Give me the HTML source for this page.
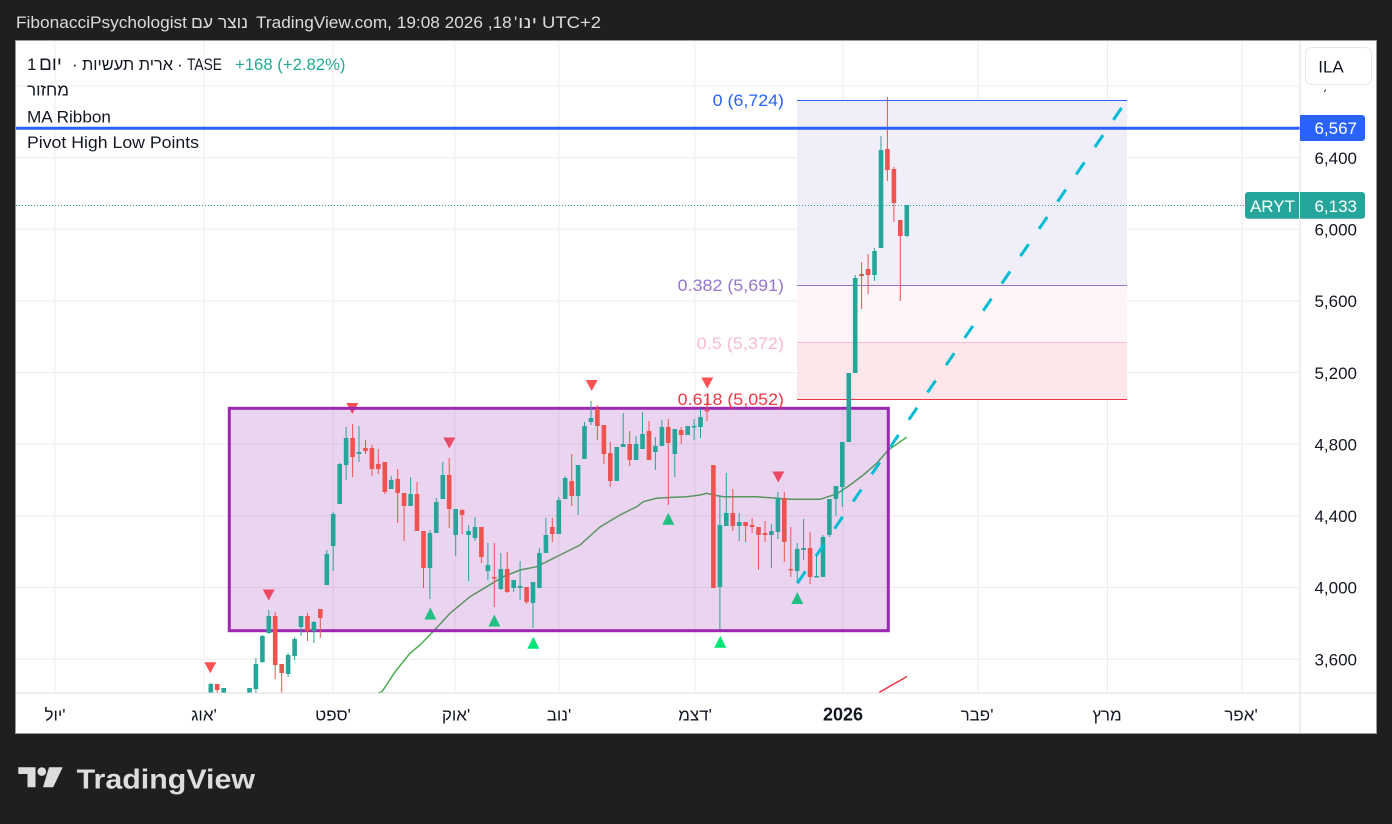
<!DOCTYPE html>
<html><head><meta charset="utf-8"><style>
html,body{margin:0;padding:0;background:#1f1f1f;}
svg{display:block;}
text{font-family:"Liberation Sans","DejaVu Sans",sans-serif;}
</style></head><body>
<svg width="1392" height="824" viewBox="0 0 1392 824" xmlns="http://www.w3.org/2000/svg">
<defs><clipPath id="pc"><rect x="16" y="41" width="1284" height="652"/></clipPath></defs>
<rect x="0" y="0" width="1392" height="824" fill="#1f1f1f"/>
<g font-size="17" fill="#dcdcdc">
<text x="16" y="28" textLength="171" lengthAdjust="spacingAndGlyphs">FibonacciPsychologist</text>
<text x="191" y="28" textLength="57" lengthAdjust="spacingAndGlyphs">נוצר עם</text>
<text x="256" y="28" textLength="255.7" lengthAdjust="spacingAndGlyphs">TradingView.com, 19:08 2026 ,18</text>
<text x="514" y="28">'</text>
<text x="518" y="28" textLength="19" lengthAdjust="spacingAndGlyphs">ינו</text>
<text x="542" y="28" textLength="59" lengthAdjust="spacingAndGlyphs">UTC+2</text>
</g>
<rect x="15.5" y="40.5" width="1361" height="693" fill="#ffffff" stroke="#9a9a9a" stroke-width="1"/>
<g stroke="#ededed" stroke-width="1">
<path d="M16 86H1300M16 157.65H1300M16 229.3H1300M16 300.95H1300M16 372.6H1300M16 444.25H1300M16 515.9H1300M16 587.55H1300M16 659.2H1300"/>
<path d="M55 41V693M204 41V693M333 41V693M455 41V693M559 41V693M695 41V693M843 41V693M978 41V693M1107.5 41V693M1242 41V693"/>
</g>
<g clip-path="url(#pc)">
<path d="M378 693 L382 691.7 L395 672 L410 653.3 L420 645 L433 631.7 L450 613.3 L470 596.7 L486.7 586.7 L503.3 576.7 L520 570 L536.7 566.7 L546.7 561.7 L560 555 L580 545 L600 527 L620 515 L636.7 506.7 L643.3 501.7 L656.7 498.3 L673.3 497.3 L686.7 496.7 L700 495 L706.7 493.3 L713.3 495 L723 496.7 L756.7 496.7 L790 499.3 L820 499.3 L836.7 494 L850 485 L863.3 475 L876.7 463.3 L888.3 450 L906.7 437.3" fill="none" stroke="#4caf50" stroke-width="1.5"/>
<g fill="#ff5252">
<path d="M204.3 662.3h12l-6 11z"/>
<path d="M262.7 589.5h12l-6 11z"/>
<path d="M346.3 403h12l-6 11z"/>
<path d="M443.3 437.5h12l-6 11z"/>
<path d="M585.7 380h12l-6 11z"/>
<path d="M701.3 377.5h12l-6 11z"/>
<path d="M772.3 471.5h12l-6 11z"/>
</g>
<g fill="#00e676">
<path d="M430.3 607.5l6 12h-12z"/>
<path d="M494.3 614.5l6 12h-12z"/>
<path d="M533.3 636.8l6 12h-12z"/>
<path d="M668.3 512.8l6 12h-12z"/>
<path d="M720.3 635.8l6 12h-12z"/>
<path d="M797.3 592l6 12h-12z"/>
</g>
<rect x="797" y="100" width="330" height="185.3" fill="#f0eef8"/>
<rect x="797" y="285.3" width="330" height="57" fill="#fdf5f7"/>
<rect x="797" y="342.3" width="330" height="57" fill="#fde7ea"/>
<path d="M797 100.5H1127" stroke="#2962ff" stroke-width="1"/>
<path d="M797 285.5H1127" stroke="#9575cd" stroke-width="1"/>
<path d="M797 342.5H1127" stroke="#f8bbd0" stroke-width="1"/>
<path d="M797 399.5H1127" stroke="#f23645" stroke-width="1"/>
<rect x="229.3" y="408.3" width="659" height="222.4" fill="rgba(156,39,176,0.2)" stroke="#9c27b0" stroke-width="3"/>
<path fill="none" stroke="#26a69a" stroke-width="1" d="M210.8 683V693 M223.7 688V693 M249.5 688V693 M255.9 658V693 M262.4 635V663 M268.8 610V634 M288.1 653V677 M294.6 637V660 M301 616V636 M313.9 621V643 M326.8 550V585 M333.2 512V571 M339.7 463V504 M346.1 427V480 M359 426V462 M391.2 476V489 M410.6 477V506 M429.9 530V599 M436.3 498V533 M442.8 462V499 M455.7 509V556 M468.6 525V581 M475 517V541 M487.9 543V580 M500.8 553V590 M513.7 580V592 M520.1 561V600 M533 582V628 M539.4 548V588 M545.9 518V553 M558.8 497V534 M565.2 476V499 M578.1 465V515 M584.5 422V459 M591 401V425 M616.8 447V481 M623.2 413V447 M636.1 436V460 M642.5 412V449 M655.4 437V470 M661.9 420V446 M674.8 429V477 M687.7 426V435 M694.1 419V440 M700.5 409V438 M719.9 495V629 M726.3 473V526 M739.2 513V541 M771.4 524V568 M777.9 492V539 M797.2 543V583 M803.6 519V560 M816.5 555V577.5 M823 535V577 M829.4 499V537 M835.9 486V516 M842.3 442V507 M848.8 373V442 M855.2 275V373 M874.5 248V281 M881 136V248 M906.8 205V237"/>
<path fill="#26a69a" d="M208.5 684h4.6V693h-4.6z M221.4 688h4.6V693h-4.6z M247.2 688h4.6V693h-4.6z M253.6 664h4.6V689h-4.6z M260.1 636h4.6V662h-4.6z M266.5 616h4.6V633h-4.6z M285.8 655h4.6V674h-4.6z M292.3 639h4.6V656h-4.6z M298.7 616h4.6V627h-4.6z M311.6 622h4.6V631h-4.6z M324.5 554h4.6V585h-4.6z M330.9 514h4.6V546h-4.6z M337.4 464h4.6V504h-4.6z M343.8 438h4.6V465h-4.6z M356.7 452h4.6V454h-4.6z M388.9 480h4.6V489h-4.6z M408.3 494h4.6V506h-4.6z M427.6 533h4.6V568h-4.6z M434 502h4.6V533h-4.6z M440.5 475h4.6V499h-4.6z M453.4 509h4.6V535h-4.6z M466.3 531h4.6V535h-4.6z M472.7 527h4.6V538h-4.6z M485.6 565h4.6V571h-4.6z M498.5 569h4.6V589h-4.6z M511.4 580h4.6V588h-4.6z M517.8 586h4.6V588h-4.6z M530.7 582h4.6V603h-4.6z M537.1 553h4.6V588h-4.6z M543.6 535h4.6V553h-4.6z M556.5 500h4.6V534h-4.6z M562.9 478h4.6V499h-4.6z M575.8 465h4.6V496h-4.6z M582.2 426h4.6V459h-4.6z M588.7 418h4.6V422h-4.6z M614.5 447h4.6V481h-4.6z M620.9 444h4.6V447h-4.6z M633.8 444h4.6V460h-4.6z M640.2 434h4.6V449h-4.6z M653.1 446h4.6V452h-4.6z M659.6 427h4.6V446h-4.6z M672.5 429h4.6V454h-4.6z M685.4 426h4.6V435h-4.6z M691.8 426h4.6V427.5h-4.6z M698.2 417h4.6V427h-4.6z M717.6 525h4.6V587h-4.6z M724 513h4.6V526h-4.6z M736.9 522h4.6V526h-4.6z M769.1 531h4.6V535h-4.6z M775.6 498h4.6V532h-4.6z M794.9 549h4.6V571h-4.6z M801.3 548h4.6V550h-4.6z M814.2 576h4.6V577.5h-4.6z M820.7 537h4.6V577h-4.6z M827.1 499h4.6V535h-4.6z M833.6 486h4.6V499h-4.6z M840 442h4.6V487h-4.6z M846.5 373h4.6V442h-4.6z M852.9 278h4.6V373h-4.6z M872.2 251h4.6V275h-4.6z M878.7 150h4.6V248h-4.6z M904.5 205h4.6V236h-4.6z"/>
<path fill="none" stroke="#ef5350" stroke-width="1" d="M217.2 684V693 M275.2 612V679 M281.7 664V693 M307.5 613V641 M320.3 609V638 M352.6 424V477 M365.5 440V454 M371.9 445V476 M378.3 449V474 M384.8 462V494 M397.7 469V523 M404.1 493V541 M417 482V531 M423.5 531V588 M449.2 458V528 M462.1 509V534 M481.4 527V563 M494.3 543V607 M507.2 552V593 M526.6 587V604 M552.3 518V542 M571.7 454V506 M597.4 405V440 M603.9 425V464 M610.3 442V487 M629.7 431V466 M649 421V460 M668.3 419V505 M681.2 427V444 M707 398V421 M713.4 465V588 M732.8 489V531 M745.6 522V542 M752.1 518V533 M758.5 527V570 M765 521V542 M784.3 492V562 M790.8 527V577 M810.1 532V584 M861.6 262V309 M868.1 254V294 M887.4 97V181 M893.9 167V222 M900.3 220V301"/>
<path fill="#ef5350" d="M214.9 684h4.6V690h-4.6z M272.9 616h4.6V665h-4.6z M279.4 664h4.6V673h-4.6z M305.2 616h4.6V631h-4.6z M318 609h4.6V618h-4.6z M350.3 438h4.6V457h-4.6z M363.2 448h4.6V451h-4.6z M369.6 448h4.6V469h-4.6z M376 464h4.6V469h-4.6z M382.5 462h4.6V492h-4.6z M395.4 479h4.6V493h-4.6z M401.8 493h4.6V506h-4.6z M414.7 494h4.6V531h-4.6z M421.2 531h4.6V568h-4.6z M446.9 475h4.6V509h-4.6z M459.8 510h4.6V515h-4.6z M479.1 527h4.6V557h-4.6z M492 577h4.6V578.5h-4.6z M504.9 569h4.6V592h-4.6z M524.3 587h4.6V602h-4.6z M550 527h4.6V534h-4.6z M569.4 481h4.6V496h-4.6z M595.1 409h4.6V426h-4.6z M601.6 425h4.6V454h-4.6z M608 453h4.6V481h-4.6z M627.4 444h4.6V460h-4.6z M646.7 431h4.6V460h-4.6z M666 427h4.6V443h-4.6z M678.9 430h4.6V435h-4.6z M704.7 410h4.6V411.5h-4.6z M711.1 465h4.6V588h-4.6z M730.5 513h4.6V526h-4.6z M743.3 522h4.6V526h-4.6z M749.8 525h4.6V527h-4.6z M756.2 527h4.6V535h-4.6z M762.7 533h4.6V535h-4.6z M782 498h4.6V542h-4.6z M788.5 569h4.6V570.5h-4.6z M807.8 548h4.6V577h-4.6z M859.3 274h4.6V276h-4.6z M865.8 269h4.6V275h-4.6z M885.1 149h4.6V170h-4.6z M891.6 169h4.6V203h-4.6z M898 220h4.6V236h-4.6z"/>
<path d="M879 692.5L907 676.5" stroke="#f23645" stroke-width="1.5" fill="none"/>
<path d="M797.3 583.3L1121.7 107.7" stroke="#00bcd4" stroke-width="3" stroke-dasharray="14.5 18.5" fill="none"/>
<path d="M16 205.5H1245" stroke="#26a69a" stroke-width="1" stroke-dasharray="1 2" fill="none"/>
<path d="M16 128.3H1300" stroke="#2962ff" stroke-width="3" fill="none"/>
</g>
<text x="712.7" y="106" font-size="17" fill="#2962ff" textLength="71.3" lengthAdjust="spacingAndGlyphs">0 (6,724)</text>
<text x="677.7" y="290.8" font-size="17" fill="#9575cd" textLength="106.3" lengthAdjust="spacingAndGlyphs">0.382 (5,691)</text>
<text x="696.7" y="349" font-size="17" fill="#f8bbd0" textLength="87.3" lengthAdjust="spacingAndGlyphs">0.5 (5,372)</text>
<text x="677.7" y="404.8" font-size="17" fill="#f23645" textLength="106.3" lengthAdjust="spacingAndGlyphs">0.618 (5,052)</text>
<path d="M1300 41V733" stroke="#dcdcdc" stroke-width="1"/>
<path d="M16 693H1376" stroke="#dcdcdc" stroke-width="1"/>
<path d="M1325.5 89.5l-1 2.5" stroke="#131722" stroke-width="1"/>
<rect x="1305.5" y="47.5" width="66" height="37" rx="6" fill="#ffffff" stroke="#e6e6e6"/>
<text x="1331" y="72.5" font-size="17" fill="#131722" text-anchor="middle">ILA</text>
<g font-size="17" fill="#131722" text-anchor="end">
<text x="1357" y="163.8">6,400</text>
<text x="1357" y="235.5">6,000</text>
<text x="1357" y="307.1">5,600</text>
<text x="1357" y="378.8">5,200</text>
<text x="1357" y="450.4">4,800</text>
<text x="1357" y="522.1">4,400</text>
<text x="1357" y="593.7">4,000</text>
<text x="1357" y="665.4">3,600</text>
</g>
<path d="M1300 115H1362a3 3 0 0 1 3 3V138a3 3 0 0 1 -3 3H1300z" fill="#2962ff"/>
<text x="1357" y="134.2" font-size="17" fill="#ffffff" text-anchor="end">6,567</text>
<rect x="1245" y="192" width="120" height="26.7" rx="3" fill="#26a69a"/>
<path d="M1299.5 192V218.7" stroke="#ffffff" stroke-width="1"/>
<text x="1272.5" y="211.8" font-size="17" fill="#ffffff" text-anchor="middle">ARYT</text>
<text x="1357" y="211.8" font-size="17" fill="#ffffff" text-anchor="end">6,133</text>
<g font-size="17" fill="#131722">
<text x="27" y="70">1</text>
<text x="39" y="70" font-size="19">יום</text>
<text x="72" y="70">·</text>
<text x="82" y="70" textLength="91" lengthAdjust="spacingAndGlyphs">ארית תעשיות</text>
<text x="177" y="70">·</text>
<text x="187" y="70" textLength="35" lengthAdjust="spacingAndGlyphs">TASE</text>
</g>
<text x="235" y="70" font-size="17" fill="#22ab94" textLength="110.5" lengthAdjust="spacingAndGlyphs">+168 (+2.82%)</text>
<text x="27" y="95.5" font-size="17" fill="#131722" textLength="42" lengthAdjust="spacingAndGlyphs">מחזור</text>
<text x="27" y="122.5" font-size="17" fill="#131722" textLength="84" lengthAdjust="spacingAndGlyphs">MA Ribbon</text>
<text x="27" y="148.2" font-size="17" fill="#131722" textLength="172" lengthAdjust="spacingAndGlyphs">Pivot High Low Points</text>
<g font-size="17" fill="#131722" text-anchor="middle">
<text x="55" y="720.5">יול'</text>
<text x="204" y="720.5">אוג'</text>
<text x="333" y="720.5">ספט'</text>
<text x="456" y="720.5">אוק'</text>
<text x="559" y="720.5">נוב'</text>
<text x="695" y="720.5">דצמ'</text>
<text x="843" y="720.5" font-weight="bold" font-size="18">2026</text>
<text x="977" y="720.5">פבר'</text>
<text x="1107" y="720.5">מרץ</text>
<text x="1241" y="720.5">אפר'</text>
</g>
<g fill="#dddddd">
<path d="M18.3 767.3H35.5V787.3H27.5V774H18.3z"/>
<circle cx="41.8" cy="771.6" r="4.3"/>
<path d="M49 767.3H62.7L53.2 787.3H43z"/>
</g>
<text x="76.7" y="788.3" font-size="28" font-weight="bold" fill="#dddddd" textLength="178.3" lengthAdjust="spacingAndGlyphs">TradingView</text>
</svg>
</body></html>
